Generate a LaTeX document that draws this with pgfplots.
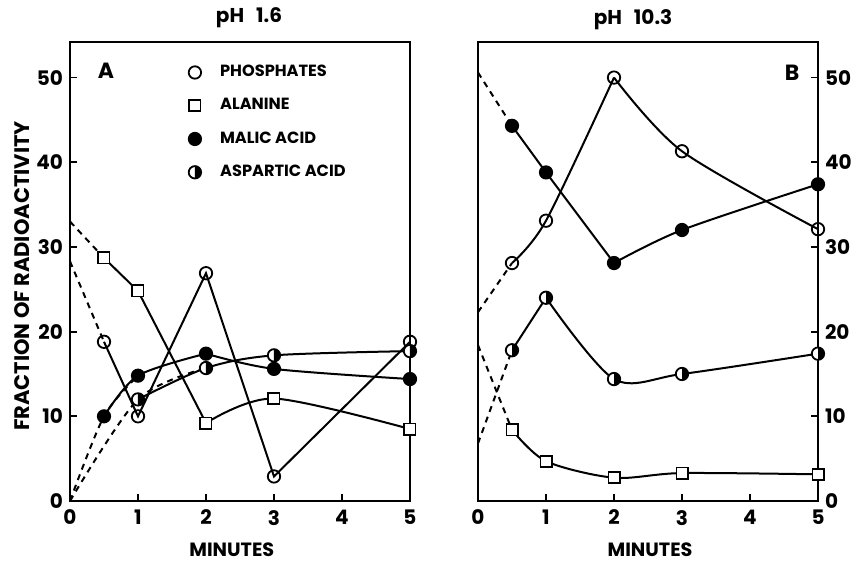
\documentclass[border=0pt]{standalone}
\usepackage{fontspec}
\setmainfont{Poppins}
\usepackage{pgfplots}
\pgfplotsset{compat=1.18}
\pgfdeclareplotmark{halfright}{%
  \pgfpathcircle{\pgfpointorigin}{\pgfplotmarksize}%
  \pgfsetfillcolor{white}\pgfusepathqfill
  \pgfpathmoveto{\pgfqpoint{0pt}{\pgfplotmarksize}}%
  \pgfpatharc{90}{-90}{\pgfplotmarksize}%
  \pgfpathclose
  \pgfsetfillcolor{black}\pgfusepathqfill
  \pgfpathcircle{\pgfpointorigin}{\pgfplotmarksize}%
  \pgfusepathqstroke
}
\pgfplotsset{
  base/.style={
    scale only axis, width=170pt, height=229.5pt,
    xmin=0, xmax=5, ymin=0, ymax=54.2,
    xtick={0,1,2,3,4,5}, ytick={0,10,20,30,40,50},
    axis line style={line width=1.2pt},
    tick style={line width=0.9pt, black},
    major tick length=3.5pt,
    tick align=inside,
    clip mode=individual,
    /pgf/number format/assume math mode=true,
    ticklabel style={font=\bfseries\fontsize{10}{12}\selectfont},
    xticklabel style={yshift=-1pt},
    label style={font=\bfseries\fontsize{9.6}{11}\selectfont},
  },
  ln/.style={black, line width=1pt, no markers},
  dsh/.style={black, line width=1pt, no markers, dash pattern=on 3pt off 2.6pt},
  pho/.style={only marks, mark=o, mark size=3.1pt, mark options={fill=white, draw=black, line width=0.9pt}},
  ala/.style={only marks, mark=square*, mark size=2.8pt, mark options={fill=white, draw=black, line width=0.9pt}},
  mal/.style={only marks, mark=*, mark size=3.1pt, mark options={fill=black, draw=black, line width=0.9pt}},
  asp/.style={only marks, mark=halfright, mark size=3.1pt, mark options={draw=black, line width=0.9pt}},
}
\begin{document}
\begin{tikzpicture}
\path[use as bounding box] (0,0) rectangle (428.5pt,282pt);
% ---------------- Panel A ----------------
\begin{axis}[base, at={(35pt,31.5pt)}, anchor=south west,
  tick pos=left,
  xlabel={MINUTES},
  xlabel style={at={(axis description cs:0.476,-0.107)}, anchor=center},
  ylabel={FRACTION OF RADIOACTIVITY},
  ylabel style={at={(axis description cs:-0.142,0.49)}, anchor=center, rotate=0, font=\bfseries\fontsize{10.5}{12}\selectfont},
  legend style={at={(axis description cs:0.348,0.959)}, anchor=north west, draw=none, fill=none,
    font=\bfseries\fontsize{8.1}{10}\selectfont, row sep=5.4pt, column sep=7.5pt, inner sep=0pt},
  legend cell align=left,
  legend image code/.code={\draw[#1] plot coordinates {(0.15cm,0cm)};},
]
% dashed extrapolations
\addplot[dsh, forget plot] coordinates {(0,28.3) (0.5,18.8)};
\addplot[dsh, forget plot] coordinates {(0,33.0) (0.5,28.7)};
\addplot[dsh, smooth, forget plot] coordinates {(0,0) (0.5,10.0) (1,14.8)};
\addplot[dsh, smooth, forget plot] coordinates {(0,0) (1,12.0) (2,15.7)};
% solid lines
\addplot[ln, forget plot] coordinates {(0.5,18.8) (1,10.0) (2,26.9) (3,2.9) (5,18.8)};
\addplot[ln, forget plot] coordinates {(0.5,28.7) (1,24.8) (2,9.2)};
\addplot[ln, smooth, forget plot] coordinates {(2,9.2) (3,12.1) (5,8.5)};
\addplot[ln, smooth, forget plot] coordinates {(0.5,10.0) (1,14.8) (2,17.4)};
\addplot[ln, smooth, forget plot] coordinates {(2,17.4) (3,15.6) (5,14.4)};
\addplot[ln, smooth, forget plot] coordinates {(1,12.0) (2,15.7) (3,17.2) (5,17.7)};
% markers
\addplot[pho] coordinates {(0.5,18.8) (1,10.0) (2,26.9) (3,2.9) (5,18.8)};
\addplot[ala] coordinates {(0.5,28.7) (1,24.8) (2,9.2) (3,12.1) (5,8.5)};
\addplot[mal] coordinates {(0.5,10.0) (1,14.8) (2,17.4) (3,15.6) (5,14.4)};
\addplot[asp] coordinates {(1,12.0) (2,15.7) (3,17.2) (5,17.7)};
\legend{PHOSPHATES, ALANINE, MALIC ACID, ASPARTIC ACID}
\node[font=\bfseries\fontsize{11}{13}\selectfont] at (axis description cs:0.106,0.937) {A};
\end{axis}
% ---------------- Panel B ----------------
\begin{axis}[base, at={(239pt,31.5pt)}, anchor=south west,
  xtick pos=bottom, ytick pos=right, yticklabel pos=right,
  xlabel={MINUTES},
  xlabel style={at={(axis description cs:0.506,-0.107)}, anchor=center},
]
\addplot[dsh] coordinates {(0,22.3) (0.5,28.1)};
\addplot[dsh] coordinates {(0,18.4) (0.5,8.4)};
\addplot[dsh] coordinates {(0,50.6) (0.5,44.3)};
\addplot[dsh] coordinates {(0,6.8) (0.5,17.8)};
\addplot[ln, smooth] coordinates {(0.5,28.1) (1,33.1) (2,50.0)};
\addplot[ln, smooth] coordinates {(2,50.0) (3,41.3) (5,32.1)};
\addplot[ln, smooth] coordinates {(0.5,8.4) (1,4.7) (2,2.75) (3,3.3) (5,3.15)};
\addplot[ln] coordinates {(0.5,44.3) (1,38.8) (2,28.1)};
\addplot[ln, smooth] coordinates {(2,28.1) (3,32.0) (5,37.4)};
\addplot[ln] coordinates {(0.5,17.8) (1,24.0)};
\addplot[ln, smooth] coordinates {(1,24.0) (2,14.4) (3,15.0) (5,17.4)};
\addplot[pho] coordinates {(0.5,28.1) (1,33.1) (2,50.0) (3,41.3) (5,32.1)};
\addplot[ala] coordinates {(0.5,8.4) (1,4.7) (2,2.75) (3,3.3) (5,3.15)};
\addplot[mal] coordinates {(0.5,44.3) (1,38.8) (2,28.1) (3,32.0) (5,37.4)};
\addplot[asp] coordinates {(0.5,17.8) (1,24.0) (2,14.4) (3,15.0) (5,17.4)};
\node[font=\bfseries\fontsize{11}{13}\selectfont] at (axis description cs:0.924,0.933) {B};
\end{axis}
% panel titles (text only)
\node[font=\bfseries\fontsize{10}{12}\selectfont] at (124.5pt,273pt) {pH\hspace{0.6em}1.6};
\node[font=\bfseries\fontsize{10}{12}\selectfont] at (316.5pt,272pt) {pH\hspace{0.6em}10.3};
\end{tikzpicture}
\end{document}
